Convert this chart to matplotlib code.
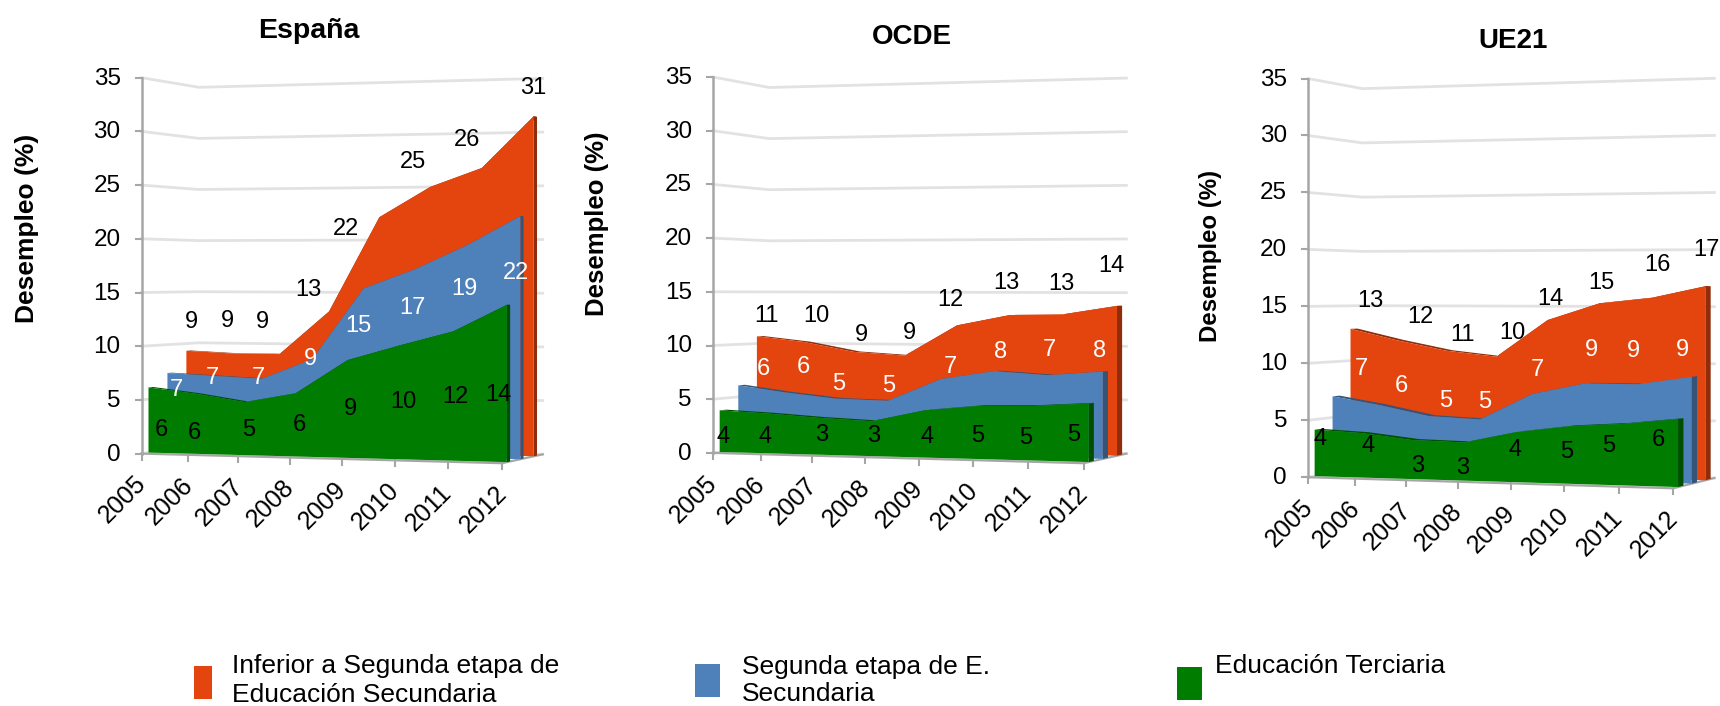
import matplotlib
matplotlib.use("Agg")
import matplotlib.pyplot as plt
from matplotlib.patches import Polygon, Rectangle

plt.rcParams['font.family'] = ['Liberation Sans', 'DejaVu Sans']

# DATA
years = ['2005', '2006', '2007', '2008', '2009', '2010', '2011', '2012']
y_ticks = [0, 5, 10, 15, 20, 25, 30, 35]

es_inferior = [9.3, 9.1, 9.1, 13.2, 22.1, 24.9, 26.6, 31.3]
es_segunda = [7.3, 7.1, 6.9, 8.8, 15.4, 17.2, 19.4, 22.0]
es_terciaria = [6.1, 5.6, 4.9, 5.8, 8.9, 10.3, 11.6, 14.0]

oc_inferior = [10.7, 10.2, 9.3, 9.0, 11.9, 12.9, 13.0, 13.8]
oc_segunda = [6.1, 5.5, 5.0, 4.9, 7.0, 7.8, 7.5, 7.9]
oc_terciaria = [3.9, 3.7, 3.4, 3.2, 4.3, 4.8, 4.9, 5.2]

ue_inferior = [12.9, 11.9, 11.0, 10.5, 13.8, 15.3, 15.8, 16.8]
ue_segunda = [6.9, 6.2, 5.3, 5.1, 7.4, 8.4, 8.4, 9.1]
ue_terciaria = [4.1, 3.9, 3.4, 3.3, 4.3, 4.9, 5.2, 5.7]

# The printed labels, they do not always round the same way as the areas
es_labels = [['9', '9', '9', '13', '22', '25', '26', '31'],
             ['7', '7', '7', '9', '15', '17', '19', '22'],
             ['6', '6', '5', '6', '9', '10', '12', '14']]
oc_labels = [['11', '10', '9', '9', '12', '13', '13', '14'],
             ['6', '6', '5', '5', '7', '8', '7', '8'],
             ['4', '4', '3', '3', '4', '5', '5', '5']]
ue_labels = [['13', '12', '11', '10', '14', '15', '16', '17'],
             ['7', '6', '5', '5', '7', '9', '9', '9'],
             ['4', '4', '3', '3', '4', '5', '5', '6']]

# Hand placed label spots (pixels), one list of (x, y) per series
es_spots = [[(191, 322), (227, 321), (262, 322), (308, 290), (346, 229), (413, 162), (467, 140), (533, 88)],
            [(176, 390), (212, 378), (258, 378), (310, 359), (358, 326), (412, 308), (464, 289), (516, 273)],
            [(161, 430), (194, 433), (249, 430), (299, 425), (350, 409), (403, 402), (455, 397), (498, 395)]]
oc_spots = [[(767, 316), (816, 316), (861, 335), (909, 333), (950, 300), (1006, 283), (1061, 284), (1111, 266)],
            [(763, 369), (803, 367), (839, 384), (889, 386), (950, 367), (1001, 352), (1049, 350), (1100, 351)],
            [(723, 437), (765, 437), (822, 435), (874, 436), (927, 437), (978, 436), (1026, 438), (1074, 435)]]
ue_spots = [[(1370, 301), (1420, 317), (1463, 335), (1512, 333), (1550, 299), (1601, 283), (1657, 265), (1706, 250)],
            [(1361, 369), (1401, 386), (1446, 401), (1485, 402), (1537, 370), (1591, 350), (1633, 351), (1682, 350)],
            [(1320, 439), (1368, 446), (1418, 466), (1463, 468), (1515, 450), (1567, 452), (1609, 446), (1658, 440)]]

RED = '#E4450E'
BLUE = '#4E80B9'
GREEN = '#007C00'
RED_DARK = '#8F2C0A'
BLUE_DARK = '#345478'
GREEN_DARK = '#004F00'
GRID = '#E2E2E2'
AXIS = '#A6A6A6'

# Depth slot of each series, back to front
DEPTHS = [0.78, 0.45, 0.12]
FILLS = [RED, BLUE, GREEN]
DARKS = [RED_DARK, BLUE_DARK, GREEN_DARK]
LABEL_COLORS = ['black', 'white', 'black']


# Fake 3D box: each corner is (x, y of value 0, pixels per unit)
def project(box, u, d, v):
    fl, fr, bl, br = box
    u = u ** 1.05  # the front edge spacing grows a bit to the right
    vals = []
    for k in range(3):
        left = fl[k] * (1 - d) + bl[k] * d
        right = fr[k] * (1 - d) + br[k] * d
        vals.append(left * (1 - u) + right * u)
    return vals[0], vals[1] - vals[2] * v


def draw_walls(ax, box):
    for v in y_ticks:
        pts = [project(box, 0, 0, v), project(box, 0, 1, v), project(box, 1, 1, v)]
        ax.plot([p[0] for p in pts], [p[1] for p in pts], color=GRID, lw=2, zorder=1)
    # axis lines
    p0 = project(box, 0, 0, 0)
    p1 = project(box, 0, 0, 35)
    ax.plot([p0[0], p1[0]], [p0[1], p1[1]], color=AXIS, lw=1.8, zorder=2)
    p2 = project(box, 1, 0, 0)
    p3 = project(box, 1, 1, 0)
    ax.plot([p0[0], p2[0], p3[0]], [p0[1], p2[1], p3[1]], color=AXIS, lw=1.6, zorder=2)
    for v in y_ticks:
        p = project(box, 0, 0, v)
        ax.plot([p[0] - 6, p[0]], [p[1], p[1]], color=AXIS, lw=1.5, zorder=2)
        ax.text(p[0] - 21, p[1] + 1, str(v), ha='right', va='center', fontsize=17.5, zorder=8)
    for i, year in enumerate(years):
        p = project(box, i / 7, 0, 0)
        ax.plot([p[0], p[0]], [p[1], p[1] + 6], color=AXIS, lw=1.5, zorder=2)
        ax.text(p[0] - 19, p[1] + 46, year, rotation=45, ha='center', va='center',
                fontsize=18, zorder=8)


def draw_layer(ax, box, values, slot, depth_size, zorder):
    d = DEPTHS[slot]
    n = len(values)
    front = [project(box, i / (n - 1), d, values[i]) for i in range(n)]
    back = [project(box, i / (n - 1), d + depth_size, values[i]) for i in range(n)]
    base = [project(box, i / (n - 1), d, 0) for i in range(n)]
    side = [base[-1], front[-1], back[-1], project(box, 1, d + depth_size, 0)]
    ax.add_patch(Polygon(front + back[::-1], closed=True, fc=DARKS[slot], ec='none', zorder=zorder))
    ax.add_patch(Polygon(side, closed=True, fc=DARKS[slot], ec='none', zorder=zorder))
    ax.add_patch(Polygon(front + base[::-1], closed=True, fc=FILLS[slot], ec='none', zorder=zorder + 0.5))


def draw_panel(ax, box, series, labels, spots, depth_size):
    draw_walls(ax, box)
    for slot in range(3):
        draw_layer(ax, box, series[slot], slot, depth_size, 3 + slot)
    for slot in range(3):
        for txt, (x, y) in zip(labels[slot], spots[slot]):
            ax.text(x, y, txt, color=LABEL_COLORS[slot], ha='center', va='center', fontsize=17, zorder=9)


fig = plt.figure(figsize=(17.2, 7.06), dpi=100)
ax = fig.add_axes([0, 0, 1, 1])
ax.set_xlim(0, 1720)
ax.set_ylim(706, 0)
ax.axis('off')

es_box = [(141.6, 453.6, 10.74), (502.0, 463.2, 11.3), (199.0, 445.0, 10.22), (542.7, 454.3, 10.74)]
oc_box = [(712.9, 452.9, 10.74), (1083.6, 463.2, 11.3), (769.3, 445.2, 10.22), (1126.4, 453.6, 10.73)]
ue_box = [(1308.1, 477.2, 11.39), (1673.1, 488.3, 12.0), (1362.5, 468.4, 10.85), (1714.4, 478.0, 11.42)]

draw_panel(ax, es_box, [es_inferior, es_segunda, es_terciaria], es_labels, es_spots, 0.08)
draw_panel(ax, oc_box, [oc_inferior, oc_segunda, oc_terciaria], oc_labels, oc_spots, 0.12)
draw_panel(ax, ue_box, [ue_inferior, ue_segunda, ue_terciaria], ue_labels, ue_spots, 0.13)

# Titles and y labels
ax.text(309, 31, 'España', fontweight='bold', fontsize=20.5, ha='center', va='center')
ax.text(912, 37, 'OCDE', fontweight='bold', fontsize=20, ha='center', va='center')
ax.text(1513, 41, 'UE21', fontweight='bold', fontsize=20, ha='center', va='center')
ax.text(27, 228, 'Desempleo (%)', fontweight='bold', fontsize=19, rotation=90, ha='center', va='center')
ax.text(597, 224, 'Desempleo (%)', fontweight='bold', fontsize=18.5, rotation=90, ha='center', va='center')
ax.text(1211, 256, 'Desempleo (%)', fontweight='bold', fontsize=17.3, rotation=90, ha='center', va='center')

# Legend
ax.add_patch(Rectangle((194, 666), 18, 33, fc=RED, ec='none'))
ax.add_patch(Rectangle((695, 664), 25, 33, fc=BLUE, ec='none'))
ax.add_patch(Rectangle((1177, 667), 25, 33, fc=GREEN, ec='none'))
ax.text(232, 666, 'Inferior a Segunda etapa de', fontsize=19, va='center')
ax.text(232, 695, 'Educación Secundaria', fontsize=19, va='center')
ax.text(742, 667, 'Segunda etapa de E.', fontsize=19, va='center')
ax.text(742, 694, 'Secundaria', fontsize=19, va='center')
ax.text(1215, 666, 'Educación Terciaria', fontsize=19, va='center')

fig.savefig('out.png', dpi=100)
